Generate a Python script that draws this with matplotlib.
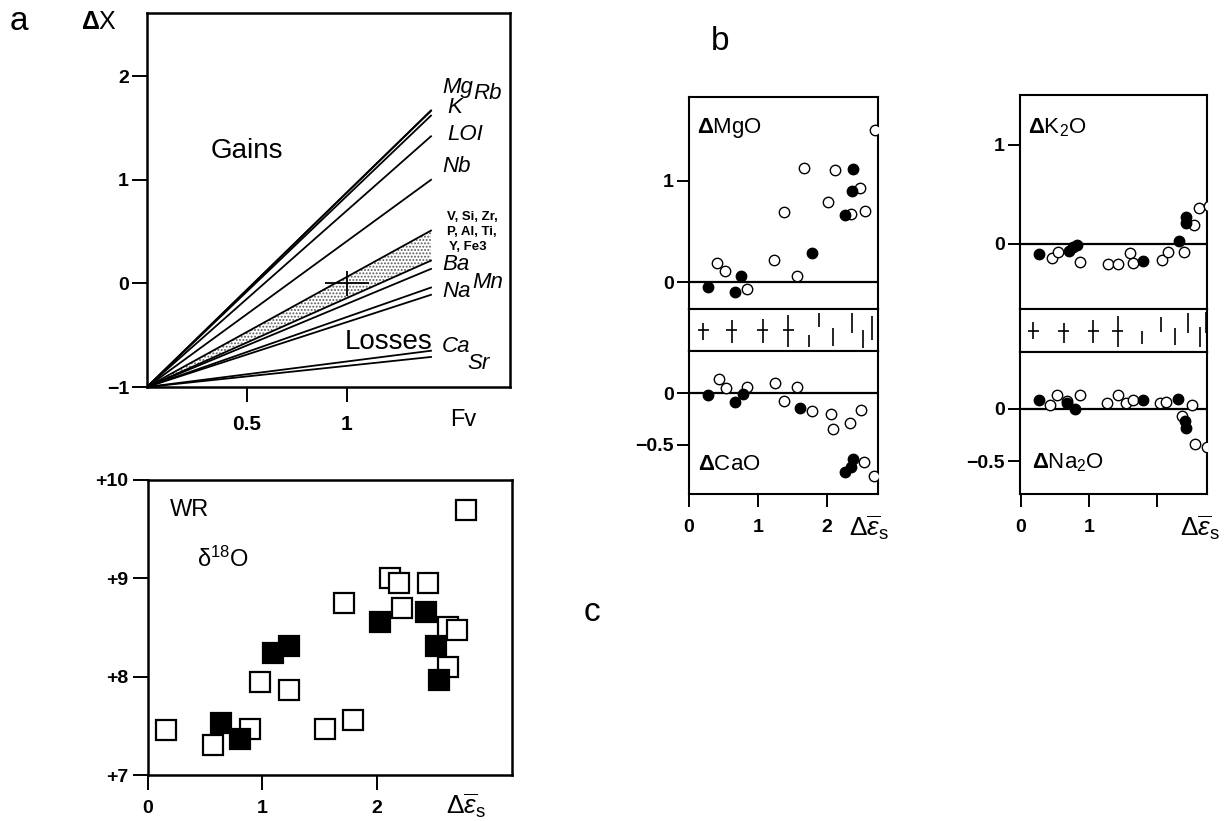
import matplotlib
matplotlib.use('Agg')
import matplotlib.pyplot as plt
import numpy as np

plt.rcParams['font.family'] = ['Liberation Sans', 'DejaVu Sans']
plt.rcParams['mathtext.fontset'] = 'custom'
plt.rcParams['mathtext.rm'] = 'Liberation Sans'
plt.rcParams['mathtext.it'] = 'Liberation Sans:italic'
plt.rcParams['mathtext.bf'] = 'Liberation Sans:bold'
plt.rcParams['hatch.linewidth'] = 0.9

W, H = 1228, 821

# ---- a : change of each element against Fv, every line from (0, -1)
fv_max = 1.42
line_end = [1.67, 1.665, 1.62, 1.42, 1.00, 0.51, 0.22, 0.14, -0.04, -0.11, -0.65, -0.71]
band_hi, band_lo = 0.51, 0.22
ref_pt = (1.0, 0.0)
ref_err = (0.11, 0.12)

# ---- c : whole rock d18O against strain
sq_open_x = [0.16, 0.57, 0.89, 0.98, 1.23, 1.55, 1.79, 1.71, 2.11, 2.19, 2.22, 2.45, 2.62, 2.70, 2.62, 2.78]
sq_open_y = [7.46, 7.31, 7.47, 7.95, 7.86, 7.47, 7.56, 8.75, 9.00, 8.95, 8.70, 8.95, 8.51, 8.47, 8.10, 9.70]
sq_fill_x = [0.64, 0.80, 1.09, 1.23, 2.03, 2.43, 2.52, 2.54]
sq_fill_y = [7.53, 7.37, 8.24, 8.31, 8.56, 8.66, 8.31, 7.97]

# ---- b : oxide changes against strain
mgo_open_x = [0.40, 0.52, 0.84, 1.23, 1.37, 1.56, 1.66, 2.02, 2.12, 2.35, 2.48, 2.55, 2.70]
mgo_open_y = [0.19, 0.11, -0.07, 0.22, 0.69, 0.06, 1.13, 0.79, 1.11, 0.67, 0.93, 0.70, 1.50]
mgo_fill_x = [0.28, 0.66, 0.76, 1.78, 2.26, 2.38, 2.37]
mgo_fill_y = [-0.05, -0.10, 0.06, 0.29, 0.66, 1.12, 0.90]

cao_open_x = [0.44, 0.54, 0.84, 1.25, 1.38, 1.56, 1.78, 2.06, 2.09, 2.33, 2.49, 2.54, 2.68]
cao_open_y = [0.14, 0.05, 0.06, 0.10, -0.07, 0.06, -0.17, -0.20, -0.35, -0.29, -0.16, -0.67, -0.80]
cao_fill_x = [0.27, 0.66, 0.79, 1.61, 2.26, 2.38, 2.35]
cao_fill_y = [-0.02, -0.08, -0.01, -0.14, -0.76, -0.64, -0.71]

k2o_open_x = [0.45, 0.55, 0.87, 1.28, 1.43, 1.60, 1.65, 2.07, 2.16, 2.40, 2.55, 2.62, 2.76]
k2o_open_y = [-0.14, -0.08, -0.18, -0.20, -0.20, -0.09, -0.19, -0.16, -0.08, -0.08, 0.19, 0.36, 0.38]
k2o_fill_x = [0.26, 0.71, 0.77, 0.83, 1.80, 2.32, 2.42, 2.43]
k2o_fill_y = [-0.10, -0.07, -0.03, -0.01, -0.17, 0.03, 0.27, 0.21]

na2o_open_x = [0.43, 0.53, 0.68, 0.86, 1.27, 1.43, 1.55, 1.65, 2.05, 2.13, 2.51, 2.37, 2.56, 2.73]
na2o_open_y = [0.03, 0.13, 0.07, 0.13, 0.05, 0.13, 0.05, 0.08, 0.05, 0.06, 0.03, -0.07, -0.34, -0.37]
na2o_fill_x = [0.26, 0.67, 0.79, 1.79, 2.31, 2.41, 2.42]
na2o_fill_y = [0.08, 0.05, 0.00, 0.08, 0.09, -0.12, -0.19]

# strain error bars (strip between the two panels), y in 0..1 of the strip
err_x_l = [0.21, 0.62, 1.07, 1.44, 1.74, 1.89, 2.09, 2.37, 2.52, 2.65]
err_lo_l = [0.26, 0.19, 0.19, 0.10, 0.10, 0.57, 0.12, 0.43, 0.07, 0.26]
err_hi_l = [0.67, 0.74, 0.76, 0.86, 0.38, 0.90, 0.55, 0.90, 0.50, 0.83]
err_x_r = [0.18, 0.63, 1.06, 1.42, 1.78, 2.06, 2.27, 2.46, 2.63, 2.72]
err_lo_r = [0.30, 0.21, 0.21, 0.12, 0.19, 0.47, 0.16, 0.44, 0.12, 0.44]
err_hi_r = [0.70, 0.67, 0.74, 0.84, 0.50, 0.81, 0.56, 0.90, 0.58, 0.93]
n_cross = 4      # first four have a horizontal bar too
cross_dx = 0.08


def box(l, t, r, b):
    return [l / W, 1 - b / H, (r - l) / W, (b - t) / H]


def frame(ax, lw):
    for s in ax.spines.values():
        s.set_linewidth(lw)


def bold_ticks(ax):
    for t in ax.get_xticklabels() + ax.get_yticklabels():
        t.set_fontweight('bold')


fig = plt.figure(figsize=(W / 100, H / 100), dpi=100)

# ================= a
ax = fig.add_axes(box(147, 13, 510, 387))
xs = np.array([0, fv_max])
for e in line_end:
    ax.plot(xs, [-1, e], color='k', lw=1.3)
xx = np.linspace(0, fv_max, 50)
ax.fill_between(xx, -1 + (band_lo + 1) * xx / fv_max, -1 + (band_hi + 1) * xx / fv_max,
                facecolor='white', edgecolor='0.35', hatch='.....', linewidth=0)
ax.errorbar([ref_pt[0]], [ref_pt[1]], xerr=ref_err[0], yerr=ref_err[1], fmt='none',
            ecolor='k', elinewidth=1.3, capsize=0)
ax.set_xlim(0, 1.815)
ax.set_ylim(-1, 2.61)
ax.set_xticks([0.5, 1])
ax.set_xticklabels(['0.5', '1'])
ax.set_yticks([-1, 0, 1, 2])
ax.set_yticklabels(['\u22121', '0', '1', '2'])
ax.tick_params(direction='out', length=11, width=1.4, labelsize=14, pad=2)
ax.tick_params(axis='x', pad=9, labelsize=15)
bold_ticks(ax)
frame(ax, 1.8)
ax.text(0.32, 1.28, 'Gains', fontsize=20, va='center')
ax.text(0.99, -0.57, 'Losses', fontsize=20, va='center')
lab = dict(fontsize=16, style='italic', va='center')
ax.text(1.475, 1.89, 'Mg', **lab)
ax.text(1.63, 1.83, 'Rb', **lab)
ax.text(1.5, 1.70, 'K', **lab)
ax.text(1.5, 1.44, 'LOI', **lab)
ax.text(1.475, 1.13, 'Nb', **lab)
small = dict(fontsize=9.5, fontweight='bold', va='center')
ax.text(1.5, 0.645, 'V, Si, Zr,', **small)
ax.text(1.5, 0.50, 'P, Al, Ti,', **small)
ax.text(1.51, 0.355, 'Y, Fe3', **small)
ax.text(1.475, 0.18, 'Ba', **lab)
ax.text(1.625, 0.01, 'Mn', **lab)
ax.text(1.475, -0.08, 'Na', **lab)
ax.text(1.475, -0.61, 'Ca', **lab)
ax.text(1.6, -0.77, 'Sr', **lab)

# ================= c
ax = fig.add_axes(box(148, 480, 512, 775))
ax.plot(sq_open_x, sq_open_y, 's', ms=14, mfc='white', mec='k', mew=1.6, ls='none')
ax.plot(sq_fill_x, sq_fill_y, 's', ms=14, mfc='k', mec='k', mew=1.6, ls='none')
ax.set_xlim(0, 3.18)
ax.set_ylim(7, 10)
ax.set_xticks([0, 1, 2])
ax.set_yticks([7, 8, 9, 10])
ax.set_yticklabels(['+7', '+8', '+9', '+10'])
ax.tick_params(direction='out', length=11, width=1.4, labelsize=14, pad=3)
ax.tick_params(axis='x', pad=7)
bold_ticks(ax)
frame(ax, 1.8)
ax.text(0.19, 9.70, 'WR', fontsize=17, va='center')
ax.text(0.43, 9.19, r'δ$^{\mathit{18}}$O', fontsize=17, va='center')

# ================= b
def oxide(rect, xlim, ylim, ox, oy, fx, fy, yt, ytl, name, nx, ny, bottom):
    ax = fig.add_axes(rect)
    ax.axhline(0, color='k', lw=1.6, zorder=1)
    ax.plot(ox, oy, 'o', ms=7.5, mfc='white', mec='k', mew=1.0, ls='none', zorder=3)
    ax.plot(fx, fy, 'o', ms=7.5, mfc='k', mec='k', mew=1.0, ls='none', zorder=4)
    ax.set_xlim(*xlim)
    ax.set_ylim(*ylim)
    ax.set_yticks(yt)
    ax.set_yticklabels(ytl)
    if bottom is None:
        ax.set_xticks([])
    else:
        ax.set_xticks(bottom[0])
        ax.set_xticklabels(bottom[1])
    ax.tick_params(direction='out', length=9, width=1.4, labelsize=14, pad=2)
    ax.tick_params(axis='x', pad=9)
    bold_ticks(ax)
    frame(ax, 1.5)
    ax.text(nx, ny, name, fontsize=16, va='center')
    return ax


def strip(rect, xlim, ex, lo, hi):
    ax = fig.add_axes(rect)
    ax.vlines(ex, lo, hi, color='k', lw=1.2)
    ax.errorbar(ex[:n_cross], [0.5] * n_cross, xerr=cross_dx, fmt='none', ecolor='k',
                elinewidth=1.2, capsize=0)
    ax.set_xlim(*xlim)
    ax.set_ylim(0, 1)
    ax.set_xticks([])
    ax.set_yticks([])
    frame(ax, 1.5)


xl_l = (0, 2.74)
oxide(box(689, 97, 878, 309), xl_l, (-0.267, 1.83), mgo_open_x, mgo_open_y, mgo_fill_x, mgo_fill_y,
      [0, 1], ['0', '1'], r'$\mathbf{\Delta}$MgO', 0.12, 1.52, None)
strip(box(689, 309, 878, 351), xl_l, err_x_l, err_lo_l, err_hi_l)
oxide(box(689, 351, 878, 494), xl_l, (-0.976, 0.41), cao_open_x, cao_open_y, cao_fill_x, cao_fill_y,
      [-0.5, 0], ['\u22120.5', '0'], r'$\mathbf{\Delta}$CaO', 0.13, -0.69, ([0, 1, 2], ['0', '1', '2']))

xl_r = (-0.015, 2.735)
oxide(box(1020, 95, 1207, 309), xl_r, (-0.657, 1.505), k2o_open_x, k2o_open_y, k2o_fill_x, k2o_fill_y,
      [0, 1], ['0', '1'], r'$\mathbf{\Delta}$K$_2$O', 0.1, 1.17, None)
strip(box(1020, 309, 1207, 352), xl_r, err_x_r, err_lo_r, err_hi_r)
oxide(box(1020, 352, 1207, 494), xl_r, (-0.814, 0.538), na2o_open_x, na2o_open_y, na2o_fill_x, na2o_fill_y,
      [-0.5, 0], ['\u22120.5', '0'], r'$\mathbf{\Delta}$Na$_2$O', 0.16, -0.52, ([0, 1, 2], ['0', '1', '']))

# ================= labels
strain = r'$\Delta\overline{\varepsilon}_{\rm s}$'
fig.text(19 / W, 1 - 22 / H, 'a', fontsize=24, ha='center', va='center')
fig.text(99 / W, 1 - 22 / H, r'$\mathbf{\Delta}$X', fontsize=18, ha='center', va='center')
fig.text(720 / W, 1 - 42 / H, 'b', fontsize=24, ha='center', va='center')
fig.text(592 / W, 1 - 612 / H, 'c', fontsize=24, ha='center', va='center')
fig.text(463 / W, 1 - 420 / H, 'Fv', fontsize=17, ha='center', va='center')
fig.text(466 / W, 1 - 806 / H, strain, fontsize=19, ha='center', va='center')
fig.text(869 / W, 1 - 528 / H, strain, fontsize=19, ha='center', va='center')
fig.text(1200 / W, 1 - 528 / H, strain, fontsize=19, ha='center', va='center')

fig.savefig('out.png', dpi=100)
